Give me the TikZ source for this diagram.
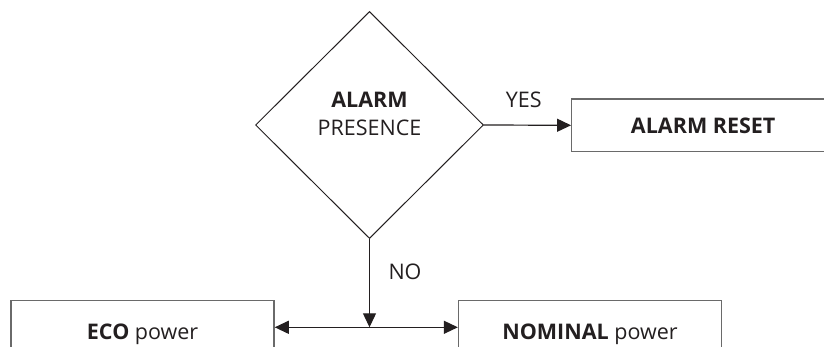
\documentclass[tikz,border=0pt]{standalone}
\usepackage{fontspec}
\setmainfont{Open Sans}
\usetikzlibrary{shapes.geometric,arrows.meta}
\definecolor{ink}{HTML}{231F20}
\definecolor{boxgray}{HTML}{6A6A6A}
\begin{document}
\begin{tikzpicture}[x=1pt,y=-1pt,
  txt/.style={font=\fontsize{21.5}{28}\selectfont,text=ink},
  box/.style={txt,draw=boxgray,line width=1.3pt,minimum width=263pt,minimum height=62.6pt,inner sep=0pt,text depth=0pt},
  dia/.style={txt,draw=ink,line width=1pt,shape=diamond,minimum width=228pt,minimum height=227pt,inner sep=0pt,align=center,text height=20.8pt},
  tip/.style={Triangle[length=14pt,width=13pt]},
  arr/.style={draw=ink,line width=1.2pt,-{Triangle[length=14pt,width=13pt]}},
  darr/.style={draw=ink,line width=1.2pt,{Triangle[length=14pt,width=13pt]}-{Triangle[length=14pt,width=13pt]}},
  lbl/.style={txt,inner sep=0pt}]
\useasboundingbox (0,0) rectangle (824,347);
\clip (0,0) rectangle (824,347);
\node[dia] (alarm) at (369.5,125) {\textbf{ALARM}\\PRESENCE};
\node[box,minimum height=52.7pt] (reset) at (703.2,125.3) {\textbf{ALARM RESET}};
\node[box] (eco) at (142.6,332) {\textbf{ECO} power};
\node[box] (nom) at (590,332) {\textbf{NOMINAL} power};
\coordinate (split) at (369.5,327.3);
\draw[arr] (alarm.east) -- (reset.west);
\draw[arr] (alarm.south) -- (split);
\draw[darr] (eco.east |- split) -- (nom.west |- split);
\node[lbl] (yes) at (523.7,99.5) {YES};
\node[lbl] (no) at (405,272) {NO};
\end{tikzpicture}
\end{document}
